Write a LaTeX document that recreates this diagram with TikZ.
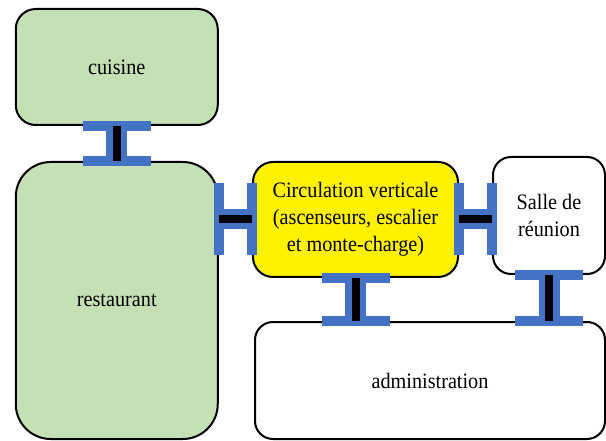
\documentclass[tikz,border=0pt]{standalone}
\usepackage{fontspec}
\setmainfont{Liberation Serif}[FakeStretch=0.92]
\usepackage{tikz}
\usetikzlibrary{calc}
\definecolor{roomgreen}{HTML}{C5E0B4}
\definecolor{beamblue}{HTML}{4472C4}

\begin{document}
\begin{tikzpicture}[x=1pt, y=-1pt, line width=2pt] % 1px = 1pt、y は下向き
  \tikzset{
    room/.style={draw=black, rounded corners=20pt, align=center, font=\fontsize{22}{27}\selectfont},
    beam/.style={fill=beamblue},
    bar/.style={draw=black, line width=8pt}
  }
  \useasboundingbox (0,0) rectangle (606,441); % 余白込みの大きさ

  % 部屋
  \node[room, fill=roomgreen, minimum width=202pt, minimum height=116pt] (cuisine) at (116.75,67) {cuisine};
  \node[room, fill=roomgreen, rounded corners=35pt, minimum width=202pt, minimum height=277pt] (restaurant) at (116.75,300.5) {restaurant};
  \node[room, fill=yellow, minimum width=205pt, minimum height=115pt] (circulation) at (355.5,219.5) {Circulation verticale\\(ascenseurs, escalier\\et monte-charge)};
  \node[room, fill=white, rounded corners=18pt, minimum width=112pt, minimum height=117pt] (salle) at (549,215.5) {Salle de\\réunion};
  \node[room, fill=white, rounded corners=18pt, minimum width=350pt, minimum height=117pt] (administration) at (430,380.5) {administration};

  % 縦の接続（上の部屋/下の部屋/基準）
  \foreach \a/\b/\r in {cuisine/restaurant/cuisine, circulation/administration/circulation, salle/administration/salle}{
    \path (\a.south -| \r.center) coordinate (t) (\b.north -| \r.center) coordinate (u);
    \fill[beam] ([shift={(-34,-5)}]t) rectangle ([shift={(34,5)}]t); % フランジ
    \fill[beam] ([shift={(-34,-5)}]u) rectangle ([shift={(34,5)}]u);
    \fill[beam] ([xshift=-10.5pt]t) rectangle ([xshift=10.5pt]u); % ウェブ
    \draw[bar] (t) -- (u);
  }
  % 横の接続
  \foreach \a/\b/\r in {restaurant/circulation/circulation, circulation/salle/circulation}{
    \path (\a.east |- \r.center) coordinate (t) (\b.west |- \r.center) coordinate (u);
    \fill[beam] ([shift={(-5,-36)}]t) rectangle ([shift={(5,36)}]t);
    \fill[beam] ([shift={(-5,-36)}]u) rectangle ([shift={(5,36)}]u);
    \fill[beam] ([yshift=-10pt]t) rectangle ([yshift=10pt]u);
    \draw[bar] (t) -- (u);
  }
\end{tikzpicture}
\end{document}
